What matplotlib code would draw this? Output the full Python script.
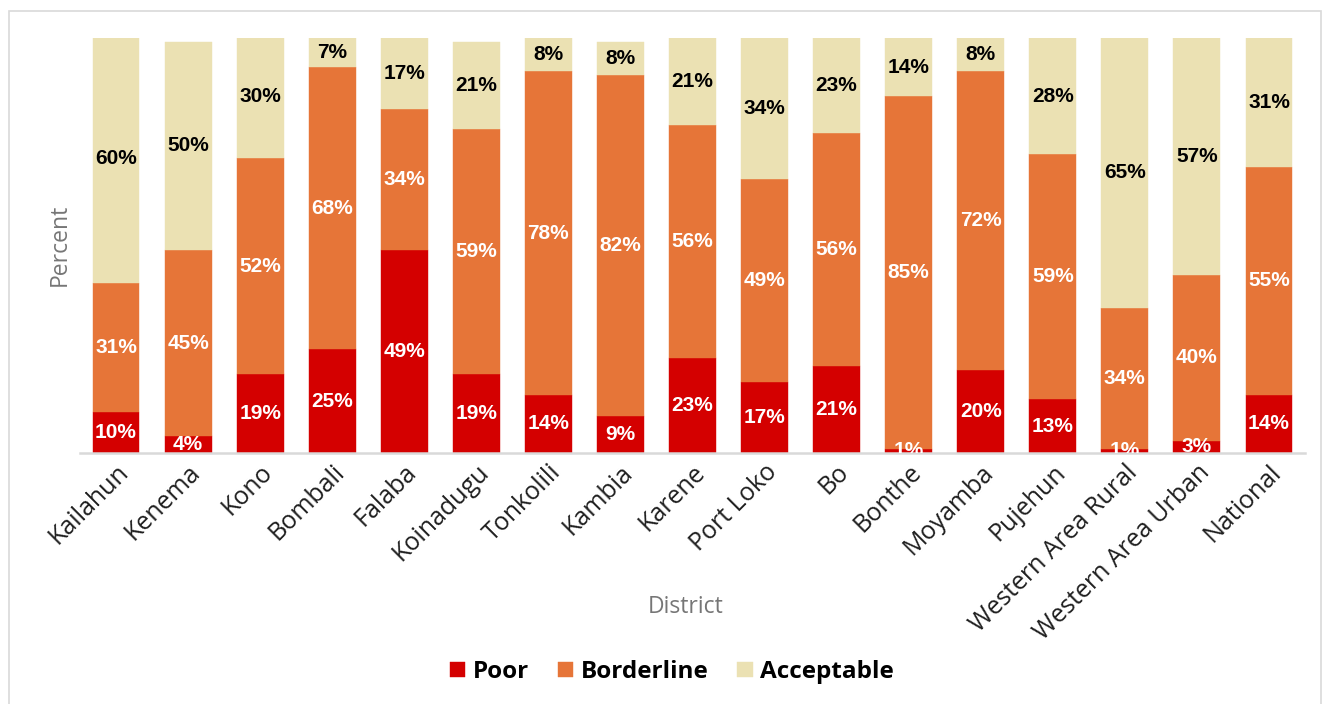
import matplotlib.pyplot as plt
import numpy as np
from matplotlib.patches import Rectangle

districts = ['Kailahun', 'Kenema', 'Kono', 'Bombali', 'Falaba', 'Koinadugu',
             'Tonkolili', 'Kambia', 'Karene', 'Port Loko', 'Bo', 'Bonthe',
             'Moyamba', 'Pujehun', 'Western Area Rural', 'Western Area Urban',
             'National']
poor = [10, 4, 19, 25, 49, 19, 14, 9, 23, 17, 21, 1, 20, 13, 1, 3, 14]
borderline = [31, 45, 52, 68, 34, 59, 78, 82, 56, 49, 56, 85, 72, 59, 34, 40, 55]
acceptable = [60, 50, 30, 7, 17, 21, 8, 8, 21, 34, 23, 14, 8, 28, 65, 57, 31]

series = [('Poor', poor, '#D40000', 'white'),
          ('Borderline', borderline, '#E67538', 'white'),
          ('Acceptable', acceptable, '#EBE1B3', 'black')]

fig = plt.figure(figsize=(13.25, 7.04), dpi=100)
fig.patches.append(Rectangle((9 / 1325, -0.01), 1312 / 1325, 1 - 11 / 704 + 0.01,
                             transform=fig.transFigure, fill=False,
                             edgecolor='#D9D9D9', linewidth=1.2))
ax = fig.add_axes([80 / 1325, 1 - 453 / 704, 1225 / 1325, 415 / 704])

x = np.arange(len(districts))
bottom = np.zeros(len(districts))
handles = []
for name, vals, color, txtcol in series:
    vals = np.array(vals, dtype=float)
    bars = ax.bar(x, vals, 0.65, bottom=bottom, color=color, label=name,
                  edgecolor=color, linewidth=0.3)
    handles.append(bars)
    for xi, b, v in zip(x, bottom, vals):
        ax.text(xi, b + v / 2, f'{int(v)}%', ha='center', va='center',
                color=txtcol, fontsize=15, fontweight='bold',
                family='Liberation Sans', clip_on=True)
    bottom += vals

ax.set_xlim(-0.5, 16.5)
ax.set_ylim(0, 100)
ax.set_yticks([])
for s in ['top', 'right', 'left']:
    ax.spines[s].set_visible(False)
ax.spines['bottom'].set_color('#D9D9D9')
ax.spines['bottom'].set_linewidth(1.8)
ax.tick_params(axis='x', length=0, pad=5)
ax.set_xticks(x)
ax.set_xticklabels(districts, rotation=45, ha='right', rotation_mode='anchor',
                   fontsize=18, family='Open Sans', color='#1F1F1F')

# axis titles placed at fixed figure positions
fig.text(686 / 1325, 1 - 607 / 704, 'District', ha='center', va='center',
         fontsize=16.5, family='Open Sans', color='#767676')
fig.text(60 / 1325, 1 - 245 / 704, 'Percent', ha='center', va='center',
         rotation=90, fontsize=16.5, family='Open Sans', color='#767676')

leg = fig.legend(handles=handles, loc='center', bbox_to_anchor=(672 / 1325, 1 - 672 / 704),
                 ncol=3, frameon=False, handlelength=0.62, handleheight=0.62,
                 handletextpad=0.3, columnspacing=1.2,
                 prop={'family': 'Open Sans', 'weight': 'bold', 'size': 17.5})

fig.savefig('out.png', dpi=100)
